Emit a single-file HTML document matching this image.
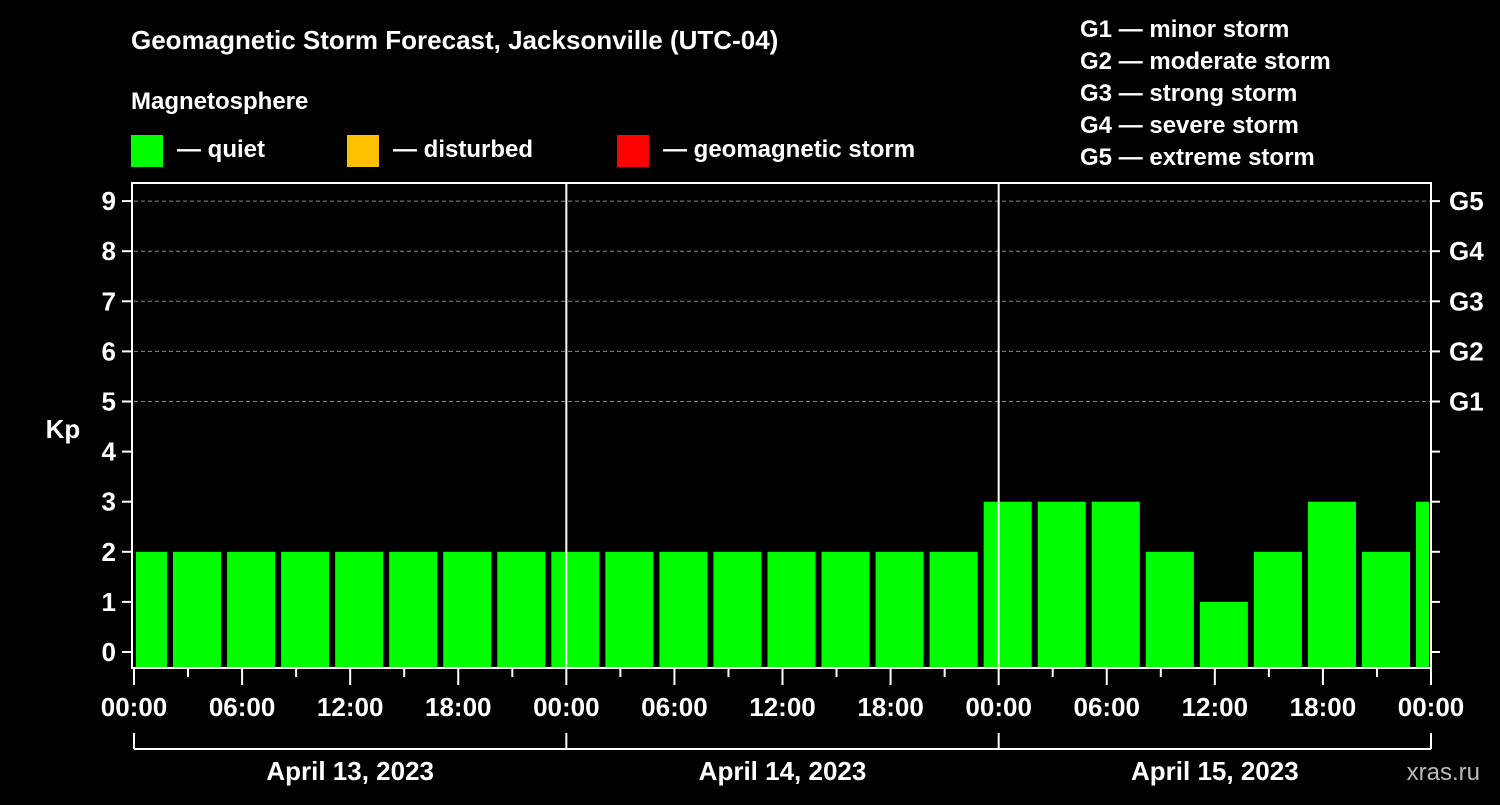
<!DOCTYPE html>
<html><head><meta charset="utf-8"><style>
body{margin:0;background:#000;}
svg text{font-family:"Liberation Sans",Arial,sans-serif;font-weight:bold;fill:#fff;}
</style></head><body>
<svg width="1500" height="800" viewBox="0 0 1500 800" xmlns="http://www.w3.org/2000/svg">
<rect width="1500" height="800" fill="#000"/>
<text x="131" y="49" font-size="26">Geomagnetic Storm Forecast, Jacksonville (UTC-04)</text>
<text x="131" y="109" font-size="24">Magnetosphere</text>
<g>
<rect x="131" y="135" width="32" height="32" fill="#00ff00"/>
<text x="177" y="157" font-size="24">— quiet</text>
<rect x="347" y="135" width="32" height="32" fill="#ffc000"/>
<text x="393" y="157" font-size="24">— disturbed</text>
<rect x="617" y="135" width="32" height="32" fill="#ff0000"/>
<text x="663" y="157" font-size="24">— geomagnetic storm</text>
</g>
<g font-size="24">
<text x="1080" y="37">G1 — minor storm</text>
<text x="1080" y="69">G2 — moderate storm</text>
<text x="1080" y="101">G3 — strong storm</text>
<text x="1080" y="133">G4 — severe storm</text>
<text x="1080" y="165">G5 — extreme storm</text>
</g>
<g id="plot"></g>
<text x="63" y="438" font-size="26" text-anchor="middle">Kp</text>
<text x="1480" y="780" font-size="24" text-anchor="end" fill="#bbb" style="fill:#bbb;font-weight:normal">xras.ru</text>
</svg>
<script>
const kpValues=[2,2,2,2,2,2,2,2, 2,2,2,2,2,2,2,2, 3,3,3,2,1,2,3,2,3];
const slotStartHour=-1; // first 3-hour slot starts 23:00 previous day (local)
const yTicks=[0,1,2,3,4,5,6,7,8,9];
const gLabels=["","","","","","G1","G2","G3","G4","G5"];
const xTickLabels=["00:00","06:00","12:00","18:00","00:00","06:00","12:00","18:00","00:00","06:00","12:00","18:00","00:00"];
const dayLabels=["April 13, 2023","April 14, 2023","April 15, 2023"];
const NS="http://www.w3.org/2000/svg";
const L=134,R=1431,T=183,B=668,hours=72;
const xs=h=>L+(R-L)*h/hours;
const ys=v=>652-50.1*v;
const g=document.getElementById('plot');
function mk(t,a,p){const e=document.createElementNS(NS,t);for(const k in a)e.setAttribute(k,a[k]);(p||g).appendChild(e);return e;}
// grid
[5,6,7,8,9].forEach(v=>{const l=mk('line',{x1:L,x2:R,y1:ys(v),y2:ys(v),stroke:'#888','stroke-dasharray':'4,3','stroke-width':1});

});
// bars
kpValues.forEach((v,i)=>{
 let h0=slotStartHour+3*i,h1=h0+3;
 let x0=Math.max(xs(h0)+3,L+2),x1=Math.min(xs(h1)-3,R-2);
 const c=v>=5?'#ff0000':(v>=4?'#ffc000':'#00ff00');
 const r=mk('rect',{x:x0,y:ys(v),width:x1-x0,height:B-1-ys(v),fill:c});
 
 
});
// day separators
[24,48].forEach(h=>{const l=mk('line',{x1:xs(h),x2:xs(h),y1:T,y2:B,stroke:'#fff','stroke-width':2});

});
// frame
const fr=mk('rect',{x:132,y:T,width:R-132,height:B-T,fill:'none',stroke:'#fff','stroke-width':2});


// y ticks
yTicks.forEach((v,i)=>{
 mk('line',{x1:122,x2:131,y1:ys(v),y2:ys(v),stroke:'#fff','stroke-width':2});
 mk('line',{x1:R,x2:R+9,y1:ys(v),y2:ys(v),stroke:'#fff','stroke-width':2});
 const t=mk('text',{x:116,y:ys(v)+9,'font-size':26,'text-anchor':'end'});t.textContent=v;
 
 
 if(gLabels[i]){const t2=mk('text',{x:1449,y:ys(v)+9,'font-size':26});t2.textContent=gLabels[i];
 
 }
});
// x ticks
for(let h=0;h<=hours;h+=3){const maj=h%6===0;mk('line',{x1:xs(h),x2:xs(h),y1:B+1,y2:B+(maj?17:9),stroke:'#fff','stroke-width':2});}
xTickLabels.forEach((s,i)=>{const t=mk('text',{x:xs(i*6),y:716,'font-size':26,'text-anchor':'middle'});t.textContent=s;

});
// day bracket
mk('line',{x1:xs(0),x2:xs(72),y1:749,y2:749,stroke:'#fff','stroke-width':2});
[0,24,48,72].forEach(h=>mk('line',{x1:xs(h),x2:xs(h),y1:733,y2:749,stroke:'#fff','stroke-width':2}));
dayLabels.forEach((s,i)=>{const t=mk('text',{x:xs(i*24+12),y:780,'font-size':26,'text-anchor':'middle'});t.textContent=s;

});
</script>
</body></html>
